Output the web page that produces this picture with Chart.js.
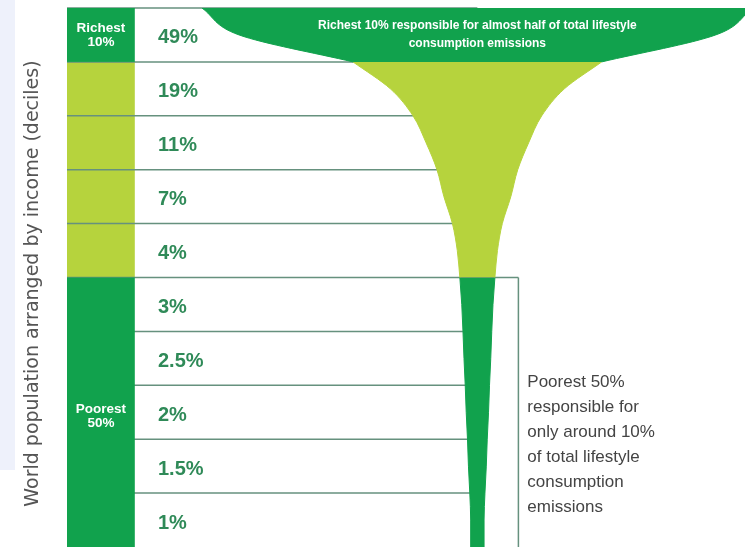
<!DOCTYPE html>
<html>
<head>
<meta charset="utf-8">
<script src="https://cdn.jsdelivr.net/npm/chart.js@4.4.1/dist/chart.umd.min.js"></script>
<style>
  html, body { margin: 0; padding: 0; background: #fff; }
  #wrap { width: 745px; height: 547px; position: relative; }
</style>
</head>
<body>
<div id="wrap"><canvas id="funnel"></canvas></div>
<script>
// deciles from richest (top) to poorest (bottom)
const deciles = ["Richest 10%", "9th", "8th", "7th", "6th", "5th", "4th", "3rd", "2nd", "Poorest 10%"];
const shares = [49, 19, 11, 7, 4, 3, 2.5, 2, 1.5, 1];
const shareLabels = ["49%", "19%", "11%", "7%", "4%", "3%", "2.5%", "2%", "1.5%", "1%"];
const groups = ["richest", "middle", "middle", "middle", "middle", "poorest", "poorest", "poorest", "poorest", "poorest"];
const groupLabels = { richest: ["Richest", "10%"], poorest: ["Poorest", "50%"] };
const topNote = ["Richest 10% responsible for almost half of total lifestyle", "consumption emissions"];
const sideNote = ["Poorest 50%", "responsible for", "only around 10%", "of total lifestyle", "consumption", "emissions"];

const DARK = "#11a24d";
const LIGHT = "#b6d33d";
const RULE = "#66917e";
const NUM = "#2f8a58";

// x axis is in share units, funnel centred on 0
const X_MIN = -46, X_MAX = 30;
const LABEL_COL_END = -38.4;
const NUM_X = -35.8;
const BOX_END = 4.6;
const NOTE_X = 5.6;

// funnel width at a position down the deciles (share units)
function widthAt(y) {
  if (y === 0) return shares[0] * 1.25;   // mouth flares at the top
  if (y === 0.5) return shares[0] * 1.08;
  if (Number.isInteger(y)) {
    if (y >= shares.length) return shares[shares.length - 1];
    const a = shares[y - 1], b = shares[y];
    return 2 * a * b / (a + b);            // between two rows
  }
  return shares[Math.floor(y)];
}

function edges(from, to) {
  const left = [], right = [];
  for (let y = from; y <= to; y += 0.5) {
    const half = widthAt(y) / 2 + 0.25;
    left.push({ x: -half, y: y });
    right.push({ x: half, y: y });
  }
  return { left, right };
}

const sections = [
  { from: 0, to: 1, color: DARK },
  { from: 1, to: 5, color: LIGHT },
  { from: 5, to: 10, color: DARK }
];

const datasets = [];
sections.forEach(s => {
  const e = edges(s.from, s.to);
  const line = { borderColor: s.color, borderWidth: 1, pointRadius: 0, cubicInterpolationMode: "monotone" };
  datasets.push(Object.assign({ data: e.left, fill: false }, line));
  datasets.push(Object.assign({ data: e.right, fill: "-1", backgroundColor: s.color }, line));
});

const tablePlugin = {
  id: "table",
  beforeDatasetsDraw(chart) {
    const { ctx, chartArea: a, scales: { x, y } } = chart;
    ctx.save();
    ctx.fillStyle = "#eef1fb";
    ctx.fillRect(0, 0, 15, 470);

    const colL = a.left, colR = x.getPixelForValue(LABEL_COL_END);
    groups.forEach((g, i) => {
      if (g !== "middle") return;
      ctx.fillStyle = LIGHT;
      ctx.fillRect(colL, y.getPixelForValue(i), colR - colL, y.getPixelForValue(i + 1) - y.getPixelForValue(i));
    });

    // row rules, they run under the funnel
    ctx.strokeStyle = RULE;
    ctx.lineWidth = 1.5;
    const firstPoor = groups.indexOf("poorest");
    for (let i = 0; i < shares.length; i++) {
      const py = y.getPixelForValue(i);
      const end = i === firstPoor ? BOX_END : 0;
      ctx.beginPath();
      ctx.moveTo(colL, py);
      ctx.lineTo(x.getPixelForValue(end), py);
      ctx.stroke();
    }
    ctx.beginPath();
    ctx.moveTo(x.getPixelForValue(BOX_END), y.getPixelForValue(firstPoor));
    ctx.lineTo(x.getPixelForValue(BOX_END), y.getPixelForValue(shares.length));
    ctx.stroke();

    // dark group blocks with labels
    Object.keys(groupLabels).forEach(g => {
      const i0 = groups.indexOf(g), i1 = groups.lastIndexOf(g) + 1;
      const top = y.getPixelForValue(i0), bot = y.getPixelForValue(i1);
      ctx.fillStyle = DARK;
      ctx.fillRect(colL, top, colR - colL, bot - top);
      ctx.fillStyle = "#fff";
      ctx.font = "bold 13.5px 'Liberation Sans', Arial, sans-serif";
      ctx.textAlign = "center";
      ctx.textBaseline = "middle";
      const cy = (top + bot) / 2 + (i1 - i0 > 1 ? 4 : 0);
      ctx.fillText(groupLabels[g][0], (colL + colR) / 2, cy - 7);
      ctx.fillText(groupLabels[g][1], (colL + colR) / 2, cy + 7);
    });

    // share values
    ctx.fillStyle = NUM;
    ctx.font = "bold 20px 'Liberation Sans', Arial, sans-serif";
    ctx.textAlign = "left";
    ctx.textBaseline = "middle";
    shareLabels.forEach((t, i) => {
      ctx.fillText(t, x.getPixelForValue(NUM_X), y.getPixelForValue(i + 0.5) + 3);
    });
    ctx.restore();
  },
  afterDatasetsDraw(chart) {
    const { ctx, scales: { x, y } } = chart;
    ctx.save();
    ctx.fillStyle = "#fff";
    ctx.font = "bold 12px 'Liberation Sans', Arial, sans-serif";
    ctx.textAlign = "center";
    ctx.textBaseline = "middle";
    const cy = y.getPixelForValue(0.5);
    ctx.fillText(topNote[0], x.getPixelForValue(0), cy - 9, 370);
    ctx.fillText(topNote[1], x.getPixelForValue(0), cy + 9);

    ctx.fillStyle = "#444";
    ctx.font = "17px 'Liberation Sans', Arial, sans-serif";
    ctx.textAlign = "left";
    const firstPoor = groups.indexOf("poorest");
    const startY = y.getPixelForValue(firstPoor + 2) - 3;
    sideNote.forEach((t, k) => {
      ctx.fillText(t, x.getPixelForValue(NOTE_X), startY + k * 25);
    });
    ctx.restore();
  }
};

new Chart(document.getElementById("funnel").getContext("2d"), {
  type: "line",
  data: { datasets: datasets },
  options: {
    indexAxis: "y",
    responsive: true,
    maintainAspectRatio: false,
    animation: false,
    events: [],
    layout: { padding: { top: 8, right: 0, bottom: 0, left: 0 } },
    scales: {
      x: { type: "linear", min: X_MIN, max: X_MAX, display: false },
      y: {
        type: "linear",
        reverse: true,
        min: 0,
        max: deciles.length,
        ticks: { display: false },
        grid: { display: false, drawTicks: false },
        border: { display: false },
        title: {
          display: true,
          text: "World population arranged by income (deciles)  ",
          color: "#555",
          font: { family: "'DejaVu Sans', sans-serif", size: 19 },
          padding: { top: 21.6, bottom: 22.6 }
        }
      }
    },
    plugins: {
      legend: { display: false },
      tooltip: { enabled: false }
    }
  },
  plugins: [tablePlugin]
});
</script>
</body>
</html>
